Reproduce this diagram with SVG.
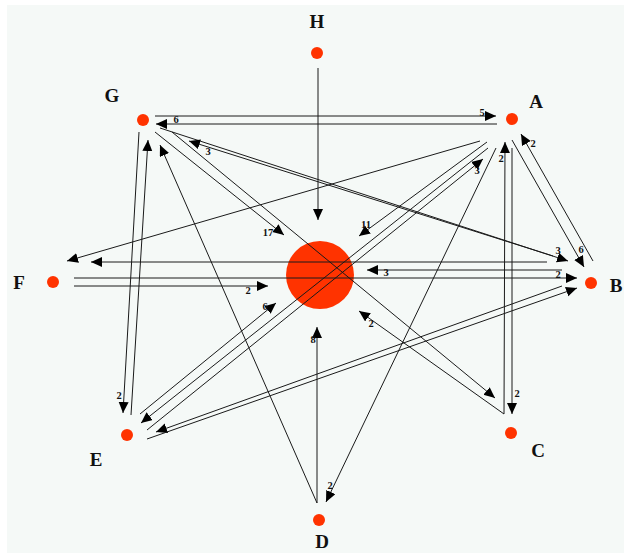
<svg xmlns="http://www.w3.org/2000/svg" width="624" height="553" viewBox="0 0 624 553">
<defs>
<style>
.dot{fill:#ff3300}
.nl{font-family:"Liberation Serif","Times New Roman",serif;font-weight:bold;font-size:19px;fill:#111;text-anchor:middle}
.el{font-family:"Liberation Serif","Times New Roman",serif;font-weight:bold;font-size:10.5px;fill:#111;text-anchor:middle}
#edges line{stroke:#1a1a1a;stroke-width:1;fill:none}
#edges line.a{marker-end:url(#ah)}
</style>
<marker id="ah" markerUnits="userSpaceOnUse" markerWidth="12" markerHeight="11" refX="11" refY="5" orient="auto">
<path d="M0,0 L11,5 L0,10 z" fill="#000"/>
</marker>
</defs>
<rect x="0" y="0" width="624" height="553" fill="#ffffff"/>
<rect x="7" y="5" width="617" height="548" fill="#f5f9f7"/>
<g id="node-center"><circle cx="320" cy="275" r="34" class="dot"/></g>
<g id="edges">
<line class="a" x1="318" y1="68" x2="318" y2="220"/>
<line class="a" x1="155" y1="116" x2="496" y2="116"/>
<line class="a" x1="497" y1="124" x2="156" y2="124"/>
<line class="a" x1="160" y1="128" x2="568" y2="261"/>
<line class="a" x1="553" y1="256" x2="189" y2="141"/>
<line class="a" x1="155" y1="132" x2="284" y2="235"/>
<line class="a" x1="172" y1="132" x2="495" y2="398"/>
<line class="a" x1="139" y1="132" x2="123" y2="413"/>
<line class="a" x1="131" y1="415" x2="148" y2="140"/>
<line class="a" x1="317" y1="503" x2="160" y2="145"/>
<line class="a" x1="480" y1="141" x2="67" y2="261"/>
<line class="a" x1="487" y1="142" x2="359" y2="236"/>
<line class="a" x1="488" y1="148" x2="141" y2="423"/>
<line class="a" x1="147" y1="430" x2="483" y2="159"/>
<line class="a" x1="496" y1="148" x2="326" y2="502"/>
<line class="a" x1="504" y1="414" x2="505" y2="142"/>
<line class="a" x1="512" y1="148" x2="512" y2="414"/>
<line class="a" x1="512" y1="140" x2="584" y2="267"/>
<line class="a" x1="593" y1="261" x2="521" y2="134"/>
<line class="a" x1="547" y1="262" x2="91" y2="262"/>
<line class="a" x1="562" y1="270" x2="367" y2="270"/>
<line class="a" x1="74" y1="278" x2="577" y2="278"/>
<line class="a" x1="74" y1="286" x2="268" y2="286"/>
<line class="a" x1="140" y1="414" x2="276" y2="303"/>
<line class="a" x1="562" y1="286" x2="156" y2="432"/>
<line class="a" x1="147" y1="439" x2="577" y2="288"/>
<line class="a" x1="504" y1="414" x2="359" y2="311"/>
<line class="a" x1="317" y1="503" x2="317" y2="327"/>
<text class="el" x="482" y="116">5</text>
<text class="el" x="176" y="123">6</text>
<text class="el" x="558" y="254">3</text>
<text class="el" x="208" y="155">3</text>
<text class="el" x="268" y="236">17</text>
<text class="el" x="119" y="399">2</text>
<text class="el" x="366" y="228">11</text>
<text class="el" x="477" y="174">3</text>
<text class="el" x="330" y="489">2</text>
<text class="el" x="501" y="162">2</text>
<text class="el" x="517" y="397">2</text>
<text class="el" x="581" y="253">6</text>
<text class="el" x="533" y="147">2</text>
<text class="el" x="386" y="276">3</text>
<text class="el" x="558" y="278">2</text>
<text class="el" x="248" y="294">2</text>
<text class="el" x="265" y="310">6</text>
<text class="el" x="371" y="327">2</text>
<text class="el" x="313" y="343">8</text>
</g>
<g id="node-H"><circle cx="317" cy="53" r="6" class="dot"/><text class="nl" x="317" y="28">H</text></g>
<g id="node-G"><circle cx="143" cy="120" r="6" class="dot"/><text class="nl" x="112" y="102">G</text></g>
<g id="node-A"><circle cx="512" cy="119" r="6" class="dot"/><text class="nl" x="536" y="108">A</text></g>
<g id="node-F"><circle cx="53" cy="282" r="6" class="dot"/><text class="nl" x="19" y="289">F</text></g>
<g id="node-B"><circle cx="591" cy="283" r="6" class="dot"/><text class="nl" x="616" y="292">B</text></g>
<g id="node-E"><circle cx="127" cy="435" r="6" class="dot"/><text class="nl" x="96" y="466">E</text></g>
<g id="node-C"><circle cx="511" cy="433" r="6" class="dot"/><text class="nl" x="538" y="457">C</text></g>
<g id="node-D"><circle cx="319" cy="520" r="6" class="dot"/><text class="nl" x="322" y="548">D</text></g>
</svg>
